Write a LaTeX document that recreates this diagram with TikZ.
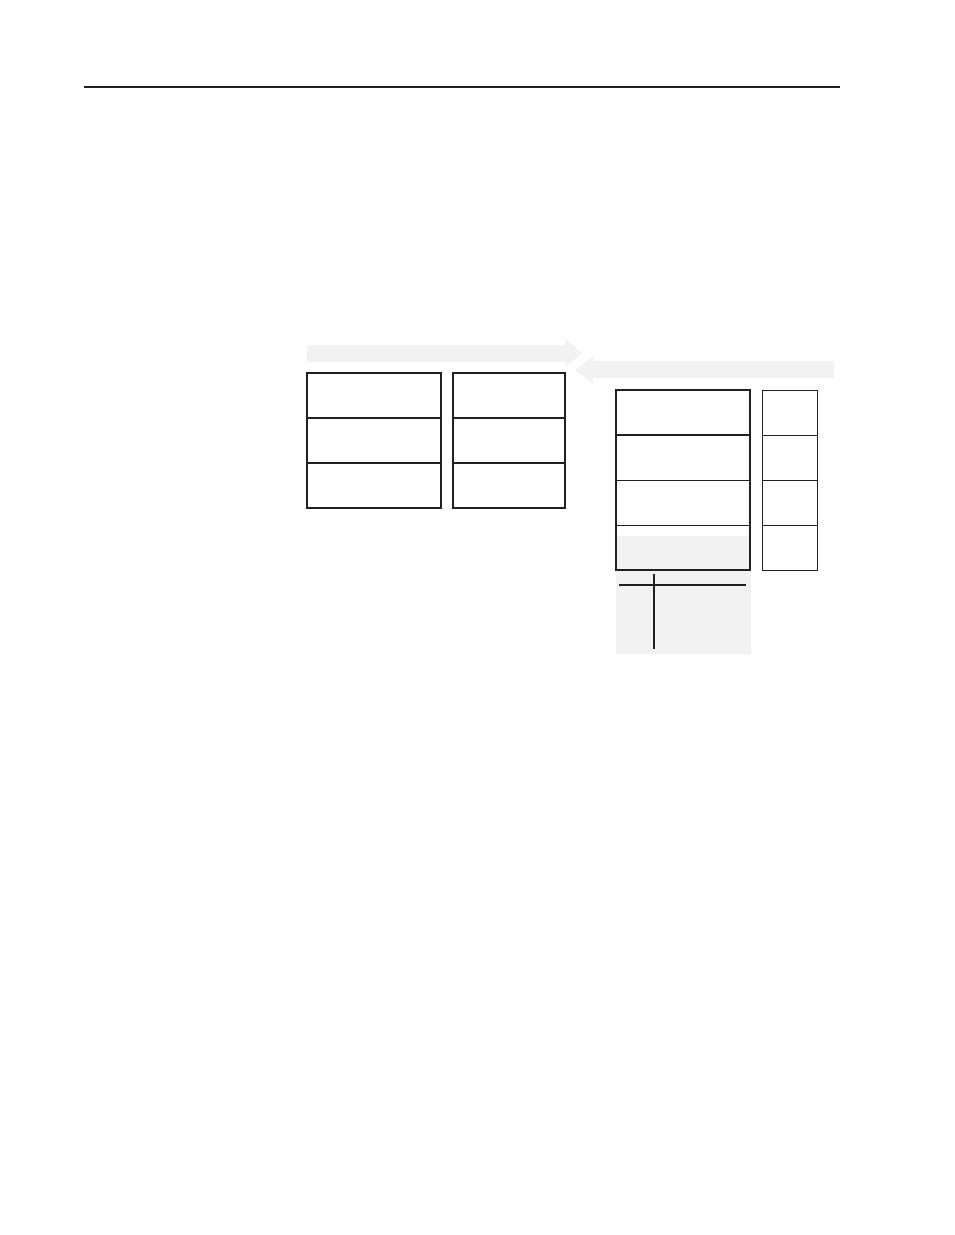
\documentclass[tikz,border=0pt]{standalone}
\usepackage{tikz}
\definecolor{flowgray}{HTML}{F2F2F2}
\definecolor{rulegray}{HTML}{231F20}
\tikzset{
  cell/.style={draw=rulegray, line width=2pt, outer sep=0pt, inner sep=0pt, anchor=north west, minimum height=45pt},
  thincell/.style={draw=rulegray, line width=1pt, outer sep=0pt, inner sep=0pt, anchor=north west, minimum height=45pt},
}

\begin{document}
\begin{tikzpicture}[x=1pt, y=-1pt]
\useasboundingbox (0,0) rectangle (954,1235);
% top rule
\coordinate (ruleL) at (84,87);
\coordinate (ruleR) at (840,87);
\draw[rulegray, line width=2pt] (ruleL) -- (ruleR);
% flow arrows
\fill[flowgray] (307,345) -- (565,345) -- (565,339) -- (582,353) -- (565,367) -- (565,362) -- (307,362) -- cycle;
\fill[flowgray] (834,361) -- (593,361) -- (593,356) -- (575,370) -- (593,384) -- (593,378) -- (834,378) -- cycle;
% gray areas
\fill[flowgray] (616,536) rectangle (750,569);
\fill[flowgray] (616,569) rectangle (751,654);
% left pair of stacks
\node[cell, minimum width=134pt] (la1) at (307,373) {};
\node[cell, minimum width=134pt] (la2) at (la1.south west) {};
\node[cell, minimum width=134pt] (la3) at (la2.south west) {};
\node[cell, minimum width=112pt] (lb1) at (453,373) {};
\node[cell, minimum width=112pt] (lb2) at (lb1.south west) {};
\node[cell, minimum width=112pt] (lb3) at (lb2.south west) {};
% right stack
\node[thincell, minimum width=134pt] (ra1) at (616,390) {};
\node[thincell, minimum width=134pt] (ra2) at (ra1.south west) {};
\node[thincell, minimum width=134pt] (ra3) at (ra2.south west) {};
\node[thincell, minimum width=134pt] (ra4) at (ra3.south west) {};
\draw[rulegray, line width=2pt] (ra1.north west) rectangle (ra4.south east);
\draw[rulegray, line width=2pt] (ra1.south west) -- (ra1.south east);
\node[thincell, minimum width=55pt] (rb1) at (762,390) {};
\node[thincell, minimum width=55pt] (rb2) at (rb1.south west) {};
\node[thincell, minimum width=55pt] (rb3) at (rb2.south west) {};
\node[thincell, minimum width=55pt] (rb4) at (rb3.south west) {};
% T lines
\coordinate (tL) at (619,585);
\coordinate (tR) at (746,585);
\coordinate (tT) at (654,574);
\coordinate (tB) at (654,649);
\draw[rulegray, line width=2pt] (tL) -- (tR);
\draw[rulegray, line width=2pt] (tT) -- (tB);
\end{tikzpicture}
\end{document}
